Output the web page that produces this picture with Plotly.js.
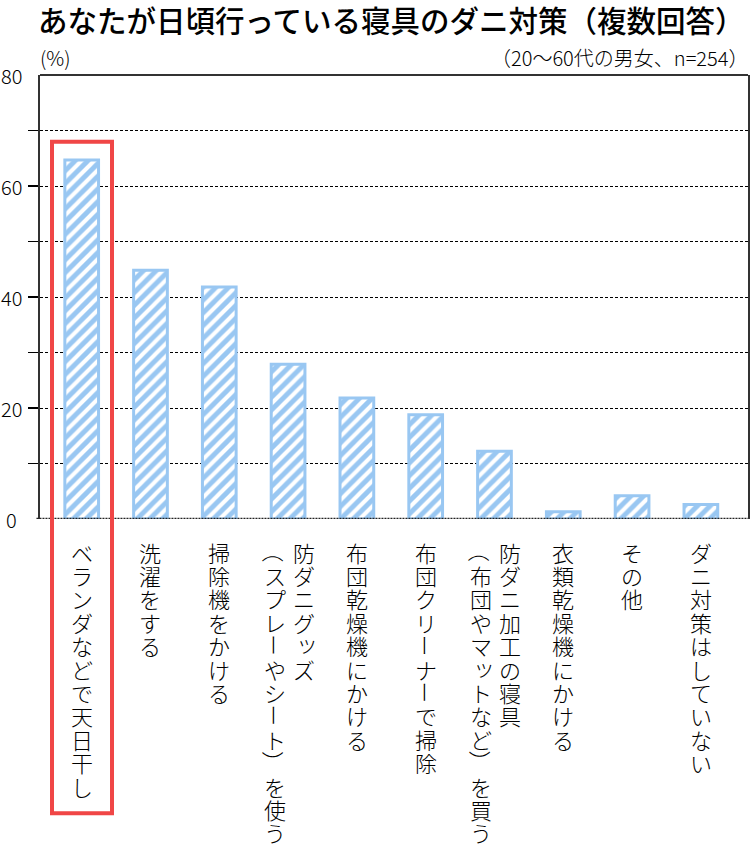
<!DOCTYPE html>
<html>
<head>
<meta charset="utf-8">
<script src="https://cdn.plot.ly/plotly-3.0.1.min.js"></script>
<style>
  html, body { margin: 0; padding: 0; background: #fff; }
  #chart { width: 750px; height: 852px; }
</style>
</head>
<body>
<div id="chart"></div>
<script>
// ---- data ----
const categories = [
  "ベランダなどで天日干し",
  "洗濯をする",
  "掃除機をかける",
  "防ダニグッズ\n（スプレーやシート）を使う",
  "布団乾燥機にかける",
  "布団クリーナーで掃除",
  "防ダニ加工の寝具\n（布団やマットなど）を買う",
  "衣類乾燥機にかける",
  "その他",
  "ダニ対策はしていない"
];
const values = [64.7, 44.8, 41.8, 27.9, 21.8, 18.8, 12.2, 1.3, 4.2, 2.6];
const yTickValues = [10, 20, 30, 40, 50, 60, 70];
const yLabelValues = [0, 20, 40, 60, 80];
const titleText = "あなたが日頃行っている寝具のダニ対策（複数回答）";
const unitText = "(%)";
const noteText = "（20～60代の男女、n=254）";

// ---- style ----
const FONT = "'Noto Sans CJK JP', 'Noto Sans', sans-serif";
const BLUE = "#99C7F2";
const RED = "#F04646";
const W = 750, H = 852;
const M = { l: 40, r: 2, t: 74.5, b: 332.5 };
const plotH = H - M.t - M.b;
const plotW = W - M.l - M.r;

const annotations = [];

// y-axis labels, centered under each other
yLabelValues.forEach(v => {
  annotations.push({
    xref: "paper", yref: "y", x: (12 - M.l) / plotW, y: v,
    xanchor: "center", yanchor: "middle", showarrow: false,
    text: String(v), font: { family: FONT, size: 20, color: "#000", weight: 300 }
  });
});

// unit + note
annotations.push({
  xref: "paper", yref: "paper", x: -0.003, y: 1 + (74.5 - 57) / plotH,
  xanchor: "left", yanchor: "middle", showarrow: false,
  text: unitText, font: { family: FONT, size: 20, color: "#000", weight: 300 }
});
annotations.push({
  xref: "paper", yref: "paper", x: 1.003, y: 1 + (74.5 - 57) / plotH,
  xanchor: "right", yanchor: "middle", showarrow: false,
  text: noteText, font: { family: FONT, size: 20, color: "#000", weight: 300 }
});

// vertical category labels (one annotation per character)
const ROTATE = new Set(["ー", "（", "）", "～", "〜", "(", ")"]);
const SMALL = new Set(["ッ", "ャ", "ュ", "ョ", "ァ", "ィ", "ゥ", "ェ", "ォ", "っ", "ゃ", "ゅ", "ょ"]);
const STEP = 23.4, FIRST = 552 - (H - M.b);
categories.forEach(cat => {
  const cols = cat.split("\n");
  const offsets = cols.length === 1 ? [0] : [16, -13];
  cols.forEach((col, ci) => {
    Array.from(col).forEach((ch, i) => {
      const rot = ROTATE.has(ch);
      const small = SMALL.has(ch);
      annotations.push({
        xref: "x", yref: "paper", x: cat, y: 0,
        xanchor: "center", yanchor: "middle", showarrow: false,
        xshift: offsets[ci] + (small ? 3 : 0),
        yshift: -(FIRST + i * STEP) + (small ? 3 : 0),
        textangle: rot ? 90 : 0,
        text: ch, font: { family: FONT, size: 22, color: "#000", weight: 300 }
      });
    });
  });
});

const data = [{
  type: "bar",
  x: categories,
  y: values,
  marker: {
    color: BLUE,
    line: { color: BLUE, width: 3 },
    pattern: { shape: "/", fgcolor: "#ffffff", bgcolor: BLUE, size: 9, solidity: 0.45, fillmode: "replace" }
  },
  hoverinfo: "x+y"
}];

const layout = {
  width: W, height: H,
  margin: M,
  paper_bgcolor: "#fff", plot_bgcolor: "#fff",
  showlegend: false,
  bargap: 0.51,
  title: {
    text: titleText,
    xref: "container", yref: "container",
    x: 38 / W, xanchor: "left",
    y: 1 - 21.5 / H, yanchor: "middle",
    font: { family: FONT, size: 29.5, color: "#000", weight: 500 }
  },
  xaxis: {
    type: "category",
    range: [-0.606, 9.685],
    showticklabels: false, ticks: "",
    showgrid: false, zeroline: false, showline: false,
    fixedrange: true
  },
  yaxis: {
    range: [0, 80],
    tickvals: yTickValues,
    showticklabels: false,
    ticks: "outside", ticklen: 10, tickwidth: 1.5, tickcolor: "#000",
    showgrid: true, gridcolor: "#000", gridwidth: 1, griddash: "3px,2px",
    zeroline: false,
    showline: true, linecolor: "#333", linewidth: 2, mirror: true,
    fixedrange: true
  },
  shapes: [
    { type: "line", xref: "paper", yref: "paper", x0: 0, x1: 1, y0: 1, y1: 1,
      line: { color: "#333", width: 2 } },
    { type: "line", xref: "paper", yref: "y", x0: -0.005, x1: 1, y0: 0, y1: 0,
      line: { color: "#222", width: 2.5, dash: "2px,1px" } },
    { type: "rect", xref: "paper", yref: "paper",
      x0: (52 - M.l) / plotW, x1: (112 - M.l) / plotW,
      y0: (H - M.b - 814.5) / plotH, y1: (H - M.b - 141.3) / plotH,
      line: { color: RED, width: 4 }, fillcolor: "rgba(0,0,0,0)" }
  ],
  annotations: annotations,
  font: { family: FONT }
};

Plotly.newPlot("chart", data, layout, { displayModeBar: false, staticPlot: true });
</script>
</body>
</html>
